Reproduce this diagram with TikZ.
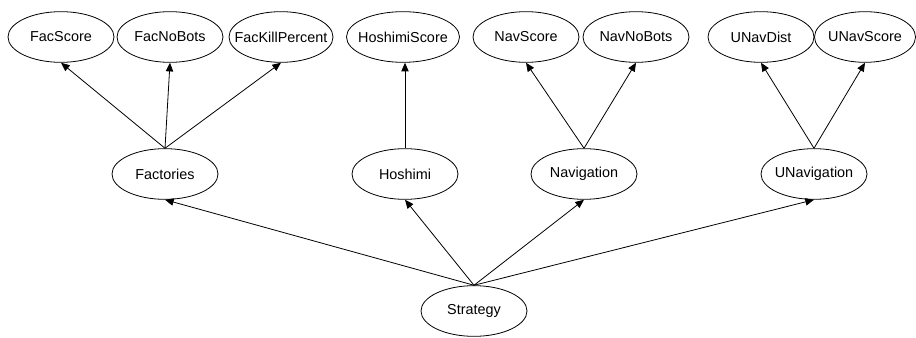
\documentclass[tikz,border=0pt]{standalone}
\usepackage{fontspec}
\setmainfont{Liberation Sans}
\usetikzlibrary{shapes.geometric,arrows.meta}
\tikzset{
  ell/.style={ellipse, draw, line width=0.6pt, inner sep=0pt, minimum width=#1*0.75pt, minimum height=38pt, font=\fontsize{10.8}{13}\selectfont},
  ell/.default=106,
  conn/.style={line width=0.6pt, -{Triangle[length=6.5pt,width=5.5pt]}}
}
\newcommand{\zt}[1]{\makebox[0pt]{#1}}
\begin{document}
\begin{tikzpicture}[x=0.75pt,y=-0.75pt]
\useasboundingbox (0,0) rectangle (916,338);
% top row
\node[ell] (facscore) at (61,37) {\zt{FacScore}};
\node[ell] (facnobots) at (170,37) {\zt{FacNoBots}};
\node[ell=104] (fackill) at (281,37) {\zt{FacKillPercent}};
\node[ell=113] (hoshscore) at (403,37) {\zt{HoshimiScore}};
\node[ell] (navscore) at (526,37) {\zt{NavScore}};
\node[ell] (navnobots) at (636,37) {\zt{NavNoBots}};
\node[ell] (unavdist) at (761,37) {\zt{UNavDist}};
\node[ell=101] (unavscore) at (865,37) {\zt{UNavScore}};
% middle row
\node[ell] (factories) at (165,174) {\zt{Factories}};
\node[ell] (hoshimi) at (405,174) {\zt{Hoshimi}};
\node[ell] (navigation) at (584,174) {\zt{Navigation}};
\node[ell] (unavigation) at (814,174) {\zt{UNavigation}};
% bottom
\node[ell] (strategy) at (474,311) {\zt{Strategy}};
% edges
\draw[conn] (strategy.north) -- (factories.south);
\draw[conn] (strategy.north) -- (hoshimi.south);
\draw[conn] (strategy.north) -- (navigation.south);
\draw[conn] (strategy.north) -- (unavigation.south);
\draw[conn] (factories.north) -- (facscore.south);
\draw[conn] (factories.north) -- (facnobots.south);
\draw[conn] (factories.north) -- (fackill.south);
\draw[conn] (hoshimi.north) -- (hoshimi.north |- hoshscore.south);
\draw[conn] (navigation.north) -- (navscore.south);
\draw[conn] (navigation.north) -- (navnobots.south);
\draw[conn] (unavigation.north) -- (unavdist.south);
\draw[conn] (unavigation.north) -- (unavscore.south);
\end{tikzpicture}
\end{document}
